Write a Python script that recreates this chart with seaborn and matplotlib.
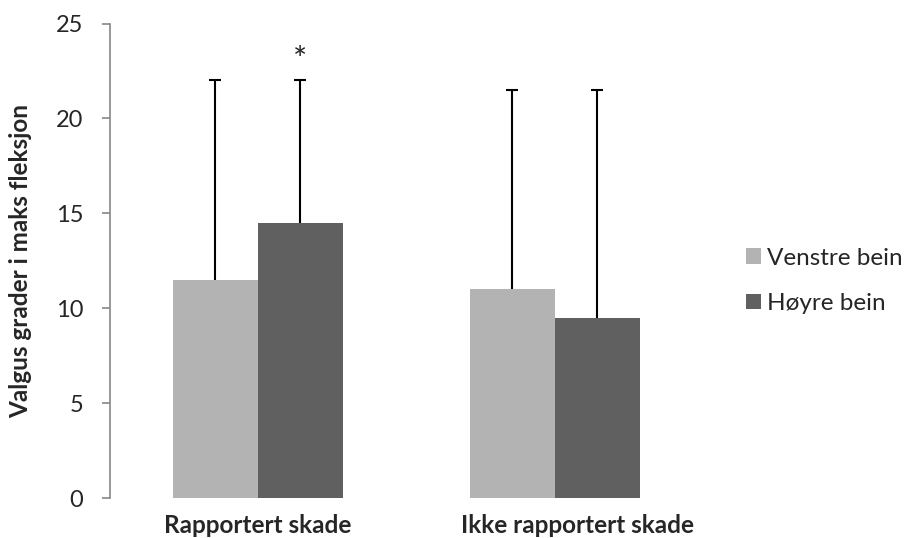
import pandas as pd
import seaborn as sns
import matplotlib.pyplot as plt
from matplotlib.transforms import ScaledTranslation

# data
categories = ["Rapportert skade", "Ikke rapportert skade"]
sides = ["Venstre bein", "Høyre bein"]
venstre = [11.5, 11.0]
hoyre = [14.5, 9.5]
venstre_err = [10.5, 10.5]
hoyre_err = [7.5, 12.0]

df = pd.DataFrame({
    "gruppe": categories * 2,
    "side": [sides[0]] * 2 + [sides[1]] * 2,
    "verdi": venstre + hoyre,
})
errs = {sides[0]: venstre_err, sides[1]: hoyre_err}

sns.set_style("white")
plt.rcParams["font.family"] = ["Lato", "DejaVu Sans"]

fig = plt.figure(figsize=(9.06, 5.38), dpi=100)
ax = fig.add_axes([0.1209, 0.0738, 0.6551, 0.8825])

sns.barplot(data=df, x="gruppe", y="verdi", hue="side", order=categories,
            hue_order=sides, palette=["#b3b3b3", "#606060"], errorbar=None,
            width=0.572, gap=0, linewidth=0, ax=ax)

# only the upper half of each error bar, placed on the bars seaborn drew
for cont, side in zip(ax.containers, sides):
    for bar, e in zip(cont, errs[side]):
        xc = bar.get_x() + bar.get_width() / 2
        eb = ax.errorbar(xc, bar.get_height(), yerr=[[0], [e]], fmt="none",
                         ecolor="black", elinewidth=1.5, capsize=4.3, capthick=1.5)
        eb[1][0].set_visible(False)

# significance mark over right leg, reported injury
b = ax.containers[1][0]
ax.text(b.get_x() + b.get_width() / 2, 23.0, "*", ha="center", va="center", fontsize=24)

ax.set_xlim(-0.5, 1.5)
ax.set_ylim(0, 25)
ax.set_yticks([0, 5, 10, 15, 20, 25])
for s in ["top", "right", "bottom"]:
    ax.spines[s].set_visible(False)
ax.spines["left"].set_color("#868686")
ax.spines["left"].set_linewidth(1.2)
ax.tick_params(axis="y", left=True, length=6, width=1.2, color="#868686",
               pad=13, labelsize=17)
ax.tick_params(axis="x", length=0, pad=11)
for lab in ax.get_xticklabels():
    lab.set_fontweight("bold")
    lab.set_fontsize(17.5)
# second category label sits a bit right of centre in the original
lab2 = ax.get_xticklabels()[1]
lab2.set_transform(lab2.get_transform() + ScaledTranslation(0.23, 0, fig.dpi_scale_trans))

ax.set_xlabel("")
ax.set_ylabel("Valgus grader i maks fleksjon", fontsize=17.5, fontweight="bold")
ax.yaxis.set_label_coords(-0.13, 0.5)

ax.legend(loc="center left", bbox_to_anchor=(746 / 906, 1 - 281 / 538),
          bbox_transform=fig.transFigure, frameon=False, fontsize=17.5,
          handlelength=0.62, handleheight=0.62, handletextpad=0.25,
          labelspacing=1.0, borderpad=0, borderaxespad=0)

fig.savefig("out.png", dpi=100)
